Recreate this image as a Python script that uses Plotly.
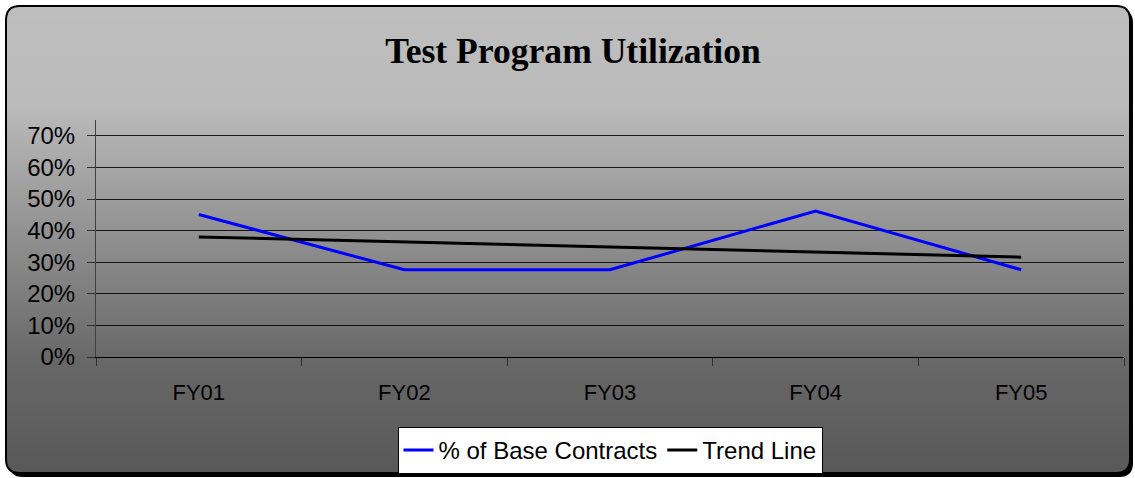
import math
import plotly.graph_objects as go

# values
years = ["FY01", "FY02", "FY03", "FY04", "FY05"]
base_contracts = [0.451, 0.276, 0.276, 0.462, 0.276]
trend_line = [0.380, 0.364, 0.348, 0.332, 0.316]

W, H = 1135, 478
# plot area in pixels
L, R, T, B = 96, 1124, 120, 357


def fx(px):
    return (px - L) / (R - L)


def fy(py):
    return (B - py) / (B - T)


def rounded_path(x0, y0, x1, y1, r):
    # rounded rectangle, quadratic corners (plotly paths have no arcs)
    pts = [
        ("M", [(x0 + r, y0)]),
        ("L", [(x1 - r, y0)]),
        ("Q", [(x1, y0), (x1, y0 + r)]),
        ("L", [(x1, y1 - r)]),
        ("Q", [(x1, y1), (x1 - r, y1)]),
        ("L", [(x0 + r, y1)]),
        ("Q", [(x0, y1), (x0, y1 - r)]),
        ("L", [(x0, y0 + r)]),
        ("Q", [(x0, y0), (x0 + r, y0)]),
    ]
    out = []
    for cmd, ps in pts:
        out.append(cmd + " ".join(f"{fx(a):.5f},{fy(b):.5f}" for a, b in ps))
    return " ".join(out) + " Z"


# background gradient stops (pixel y, grey level)
grad_stops = [(6, 190), (105, 187), (360, 104), (474, 88)]


def grey_at(y):
    for (ya, ga), (yb, gb) in zip(grad_stops, grad_stops[1:]):
        if ya <= y <= yb:
            g = ga + (gb - ga) * (y - ya) / (yb - ya)
            return int(round(g))
    return grad_stops[-1][1]


FX0, FY0, FX1, FY1, RAD = 6, 6, 1130, 473, 14

shapes = []
# drop shadow
shapes.append(dict(type="path", xref="paper", yref="paper", layer="below",
                   path=rounded_path(FX0 + 3, FY0 + 3, FX1 + 3, FY1 + 4, RAD),
                   fillcolor="black", line=dict(width=0)))
# gradient strips, trimmed at the rounded corners
step = 2
y = FY0
while y < FY1:
    ym = y + step / 2
    inset = 0
    if ym < FY0 + RAD:
        d = RAD - (ym - FY0)
        inset = RAD - math.sqrt(max(RAD ** 2 - d ** 2, 0))
    elif ym > FY1 - RAD:
        d = RAD - (FY1 - ym)
        inset = RAD - math.sqrt(max(RAD ** 2 - d ** 2, 0))
    g = grey_at(ym)
    shapes.append(dict(type="rect", xref="paper", yref="paper", layer="below",
                       x0=fx(FX0 + inset), x1=fx(FX1 - inset),
                       y0=fy(y), y1=fy(min(y + step + 0.5, FY1)),
                       fillcolor=f"rgb({g},{g},{g})", line=dict(width=0)))
    y += step
# frame border
shapes.append(dict(type="path", xref="paper", yref="paper", layer="below",
                   path=rounded_path(FX0, FY0, FX1, FY1, RAD),
                   fillcolor="rgba(0,0,0,0)", line=dict(color="black", width=2)))

fig = go.Figure()
fig.add_trace(go.Scatter(x=years, y=base_contracts, mode="lines",
                         name="% of Base Contracts",
                         line=dict(color="#0000ff", width=3)))
fig.add_trace(go.Scatter(x=years, y=trend_line, mode="lines",
                         name="Trend Line",
                         line=dict(color="black", width=3)))

fig.update_layout(
    width=W, height=H,
    margin=dict(l=L, r=W - R, t=T, b=H - B, autoexpand=False),
    paper_bgcolor="white",
    plot_bgcolor="rgba(0,0,0,0)",
    shapes=shapes,
    title=dict(text="<b>Test Program Utilization</b>",
               font=dict(family="Liberation Serif, Times New Roman, serif",
                         size=35.6, color="black"),
               x=573 / W, xanchor="center", xref="container",
               y=1 - 51 / H, yanchor="middle", yref="container"),
    font=dict(family="Liberation Sans, Arial, sans-serif", size=22, color="black"),
    xaxis=dict(
        type="category", range=[-0.5, 4.5],
        tickson="boundaries", ticks="outside", ticklen=8, tickcolor="#303030",
        showline=True, linecolor="black", linewidth=1,
        showgrid=False, zeroline=False,
        ticklabelstandoff=16,
        tickfont=dict(size=22),
    ),
    yaxis=dict(
        range=[0, 0.75], dtick=0.1, tick0=0, tickformat=".0%",
        ticks="outside", ticklen=8, tickcolor="#303030",
        showline=True, linecolor="#404040", linewidth=1,
        showgrid=True, gridcolor="rgba(0,0,0,0.85)", gridwidth=1,
        zeroline=False,
        ticklabelstandoff=7,
        tickfont=dict(size=24),
    ),
    legend=dict(
        orientation="h", x=0.5, xanchor="center",
        y=fy(427), yanchor="top",
        bgcolor="white", bordercolor="black", borderwidth=1,
        font=dict(size=24), itemwidth=30, tracegroupgap=0,
    ),
    showlegend=True,
)

# page body has a default 8px margin; drop it so the chart sits at 0,0
fig.write_html("out.html", config={"displayModeBar": False},
               post_script="document.body.style.margin='0';")
